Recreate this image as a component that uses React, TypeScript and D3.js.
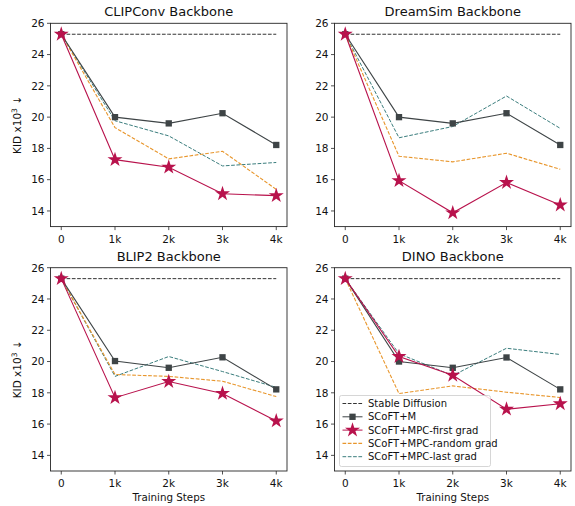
import React from "react";
import * as d3 from "d3";

// training steps on the x axis
const steps = [0, 1, 2, 3, 4];
const stepLabels = ["0", "1k", "2k", "3k", "4k"];
const yTicks = [14, 16, 18, 20, 22, 24, 26];

const backbones = ["CLIPConv Backbone", "DreamSim Backbone", "BLIP2 Backbone", "DINO Backbone"];

const seriesNames = [
  "Stable Diffusion",
  "SCoFT+M",
  "SCoFT+MPC-first grad",
  "SCoFT+MPC-random grad",
  "SCoFT+MPC-last grad",
];

// values per backbone (KID x10^3)
const stableDiffusion = [
  [25.3, 25.3, 25.3, 25.3, 25.3],
  [25.3, 25.3, 25.3, 25.3, 25.3],
  [25.3, 25.3, 25.3, 25.3, 25.3],
  [25.3, 25.3, 25.3, 25.3, 25.3],
];
const scoftM = [
  [25.3, 20.0, 19.6, 20.25, 18.22],
  [25.3, 20.0, 19.6, 20.25, 18.22],
  [25.3, 20.03, 19.6, 20.27, 18.22],
  [25.3, 20.0, 19.6, 20.26, 18.22],
];
const firstGrad = [
  [25.3, 17.28, 16.8, 15.1, 14.98],
  [25.3, 15.94, 13.88, 15.82, 14.38],
  [25.3, 17.69, 18.72, 17.96, 16.2],
  [25.3, 20.32, 19.12, 16.95, 17.3],
];
const randomGrad = [
  [25.3, 19.33, 17.33, 17.82, 15.38],
  [25.3, 17.5, 17.14, 17.69, 16.67],
  [25.3, 19.17, 19.05, 18.74, 17.76],
  [25.3, 17.95, 18.44, 18.04, 17.7],
];
const lastGrad = [
  [25.3, 19.77, 18.8, 16.88, 17.1],
  [25.3, 18.68, 19.4, 21.35, 19.28],
  [25.3, 19.05, 20.32, 19.36, 18.35],
  [25.3, 20.5, 19.1, 20.85, 20.45],
];

const colors = ["#333333", "#3e4446", "#b8124c", "#e8962c", "#3a7d7d"];

const panels = [
  { x0: 50.5, x1: 287, y0: 23.3, y1: 226.6 },
  { x0: 334.5, x1: 571, y0: 23.3, y1: 226.6 },
  { x0: 50.5, x1: 287, y0: 267.7, y1: 471 },
  { x0: 334.5, x1: 571, y0: 267.7, y1: 471 },
];

const font = "DejaVu Sans, sans-serif";

function Panel({ idx }: { idx: number }) {
  const p = panels[idx];
  const x = d3.scaleLinear().domain([-0.2, 4.2]).range([p.x0, p.x1]);
  const y = d3.scaleLinear().domain([13, 26]).range([p.y1, p.y0]);
  const line = d3
    .line<number>()
    .x((_, i) => x(steps[i]))
    .y((d) => y(d));
  const square = d3.symbol().type(d3.symbolSquare).size(40)();
  const star = d3.symbol().type(d3.symbolStar).size(70)();
  const left = idx % 2 === 0;
  const bottom = idx >= 2;

  return (
    <g>
      <text x={(p.x0 + p.x1) / 2} y={p.y0 - 7} textAnchor="middle" fontSize={13} fill="#111">
        {backbones[idx]}
      </text>
      {/* dashed / solid series */}
      <path d={line(stableDiffusion[idx])!} fill="none" stroke={colors[0]} strokeWidth={1} strokeDasharray="3.7,1.6" />
      <path d={line(lastGrad[idx])!} fill="none" stroke={colors[4]} strokeWidth={1} strokeDasharray="3.7,1.6" />
      <path d={line(randomGrad[idx])!} fill="none" stroke={colors[3]} strokeWidth={1.1} strokeDasharray="3.7,1.6" />
      <path d={line(scoftM[idx])!} fill="none" stroke={colors[1]} strokeWidth={1.1} />
      {scoftM[idx].map((v, i) => (
        <path key={"s" + i} d={square} transform={`translate(${x(steps[i])},${y(v)})`} fill={colors[1]} />
      ))}
      <path d={line(firstGrad[idx])!} fill="none" stroke={colors[2]} strokeWidth={1.1} />
      {firstGrad[idx].map((v, i) => (
        <path key={"t" + i} d={star} transform={`translate(${x(steps[i])},${y(v)})`} fill={colors[2]} />
      ))}
      {/* frame */}
      <rect x={p.x0} y={p.y0} width={p.x1 - p.x0} height={p.y1 - p.y0} fill="none" stroke="#262626" strokeWidth={0.9} />
      {yTicks.map((t) => (
        <g key={t}>
          <line x1={p.x0 - 3.5} x2={p.x0} y1={y(t)} y2={y(t)} stroke="#262626" strokeWidth={0.8} />
          <text x={p.x0 - 6} y={y(t) + 3.8} textAnchor="end" fontSize={10.5} fill="#111">
            {t}
          </text>
        </g>
      ))}
      {steps.map((s, i) => (
        <g key={s}>
          <line x1={x(s)} x2={x(s)} y1={p.y1} y2={p.y1 + 3.5} stroke="#262626" strokeWidth={0.8} />
          <text x={x(s)} y={p.y1 + 16} textAnchor="middle" fontSize={10.5} fill="#111">
            {stepLabels[i]}
          </text>
        </g>
      ))}
      {left && (
        <text
          transform={`translate(${p.x0 - 29.5},${(p.y0 + p.y1) / 2}) rotate(-90)`}
          textAnchor="middle"
          fontSize={10.5}
          fill="#111"
        >
          KID x10<tspan fontSize={7.5} dy={-4}>3</tspan>
          <tspan dy={4}> ↓</tspan>
        </text>
      )}
      {bottom && (
        <text x={(p.x0 + p.x1) / 2} y={p.y1 + 29.5} textAnchor="middle" fontSize={10.3} fill="#111">
          Training Steps
        </text>
      )}
    </g>
  );
}

function Legend() {
  const lx = 339.5;
  const ly = 395.5;
  const rowH = 13.3;
  const square = d3.symbol().type(d3.symbolSquare).size(40)();
  const star = d3.symbol().type(d3.symbolStar).size(70)();
  const dashed = [true, false, false, true, true];
  return (
    <g>
      <rect x={lx} y={ly} width={151} height={71} rx={2} fill="white" fillOpacity={0.85} stroke="#cccccc" strokeWidth={0.8} />
      {seriesNames.map((name, i) => {
        const cy = ly + 8 + i * rowH;
        return (
          <g key={name}>
            <line
              x1={lx + 3}
              x2={lx + 23}
              y1={cy}
              y2={cy}
              stroke={colors[i]}
              strokeWidth={i === 3 ? 1.1 : 1}
              strokeDasharray={dashed[i] ? "3.7,1.6" : undefined}
            />
            {i === 1 && <path d={square} transform={`translate(${lx + 13},${cy})`} fill={colors[1]} />}
            {i === 2 && <path d={star} transform={`translate(${lx + 13},${cy})`} fill={colors[2]} />}
            <text x={lx + 28.5} y={cy + 3.6} fontSize={10} fill="#111">
              {name}
            </text>
          </g>
        );
      })}
    </g>
  );
}

export default function App() {
  return (
    <svg width={575} height={506} style={{ position: "absolute", left: 0, top: 0, background: "white" }} fontFamily={font}>
      {panels.map((_, i) => (
        <Panel key={i} idx={i} />
      ))}
      <Legend />
    </svg>
  );
}
